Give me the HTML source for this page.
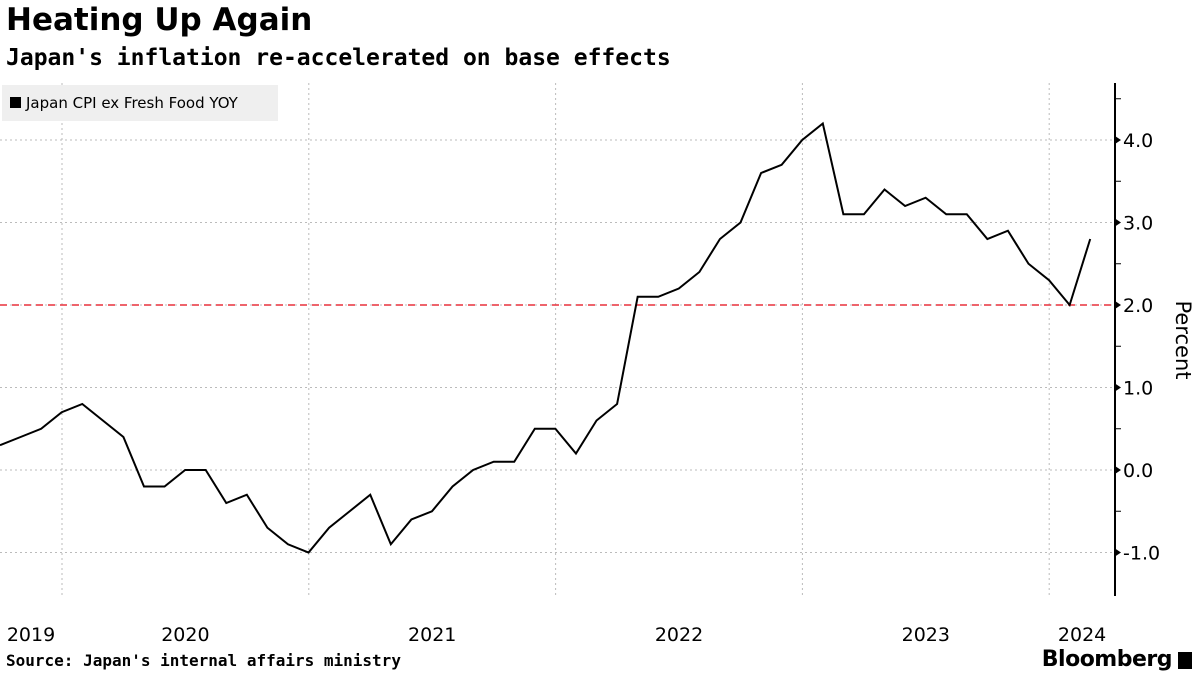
<!DOCTYPE html>
<html><head><meta charset="utf-8"><style>
body{margin:0;width:1200px;height:675px;background:#fff;font-family:"Liberation Sans",sans-serif;overflow:hidden;position:relative}
.t{position:absolute;left:6px;top:2px;font:bold 31px "DejaVu Sans",sans-serif;color:#000}
.s{position:absolute;left:6px;top:45px;font:bold 23px "DejaVu Sans Mono","Liberation Mono",monospace;color:#000}
.src{position:absolute;left:6px;top:651px;font:bold 16px "DejaVu Sans Mono",monospace}
.bb{position:absolute;right:28px;top:647px;font:bold 22px "DejaVu Sans",sans-serif;letter-spacing:-0.5px}
</style></head><body>
<div class="t">Heating Up Again</div>
<div class="s">Japan's inflation re-accelerated on base effects</div>
<svg id="c" width="1200" height="675" style="position:absolute;left:0;top:0"></svg>
<div class="src">Source: Japan's internal affairs ministry</div>
<div class="bb">Bloomberg</div>
<div style="position:absolute;right:8px;top:652px;width:14px;height:17px;background:#000"></div>
<script>
const values=[0.3,0.4,0.5,0.7,0.8,0.6,0.4,-0.2,-0.2,0.0,0.0,-0.4,-0.3,-0.7,-0.9,-1.0,-0.7,-0.5,-0.3,-0.9,-0.6,-0.5,-0.2,0.0,0.1,0.1,0.5,0.5,0.2,0.6,0.8,2.1,2.1,2.2,2.4,2.8,3.0,3.6,3.7,4.0,4.2,3.1,3.1,3.4,3.2,3.3,3.1,3.1,2.8,2.9,2.5,2.3,2.0,2.8];
const yTicks=[-1,0,1,2,3,4];
const yearLabels=["2019","2020","2021","2022","2023","2024"];
const target=2.0;
const NS="http://www.w3.org/2000/svg",svg=document.getElementById('c');
const X=i=>i*20.57, Y=v=>470-v*82.5;
const yearGrid=i=>62+i*246.8;
function el(t,a){const e=document.createElementNS(NS,t);for(const k in a)e.setAttribute(k,a[k]);svg.appendChild(e);return e;}
yTicks.forEach(v=>{const g=el('line',{x1:0,x2:1115,y1:Y(v),y2:Y(v),stroke:'#bbb','stroke-dasharray':'2,3'});

const p=el('path',{d:`M1115 ${Y(v)-4}L1121 ${Y(v)}L1115 ${Y(v)+4}Z`,fill:'#000'});

const t=el('text',{x:1123,y:Y(v)+7,'font-size':'19','font-family':'DejaVu Sans,sans-serif'});t.textContent=v.toFixed(1);

const m=el('line',{x1:1115,x2:1121,y1:Y(v+0.5),y2:Y(v+0.5),stroke:'#000'});
});
for(let i=0;i<5;i++){const g=el('line',{x1:yearGrid(i),x2:yearGrid(i),y1:83,y2:595,stroke:'#bbb','stroke-dasharray':'2,3'});
}
yearLabels.forEach((s,i)=>{const a=i===0?0:yearGrid(i-1),b=i===5?1115:yearGrid(i);
const t=el('text',{x:(a+b)/2,y:641,'text-anchor':'middle','font-size':'19','font-family':'DejaVu Sans,sans-serif'});t.textContent=s;
});
const ax=el('line',{x1:1115,x2:1115,y1:83,y2:596,stroke:'#000','stroke-width':2});

const tl=el('line',{x1:0,x2:1115,y1:Y(target),y2:Y(target),stroke:'#e8303c','stroke-width':1.6,'stroke-dasharray':'7,5'});

const ln=el('polyline',{points:values.map((v,i)=>X(i)+','+Y(v)).join(' '),fill:'none',stroke:'#000','stroke-width':2});

const yt=el('text',{x:1176,y:340,'font-size':'21','font-family':'DejaVu Sans,sans-serif','text-anchor':'middle',transform:'rotate(90 1176 340)'});yt.textContent='Percent';

const lb=el('rect',{x:2,y:85,width:276,height:36,fill:'#efefef'});

const ls=el('rect',{x:10,y:97,width:11,height:11,fill:'#000'});

const lt=el('text',{x:26,y:108,'font-size':'15','font-family':'DejaVu Sans,sans-serif'});lt.textContent='Japan CPI ex Fresh Food YOY';

</script>
</body></html>
